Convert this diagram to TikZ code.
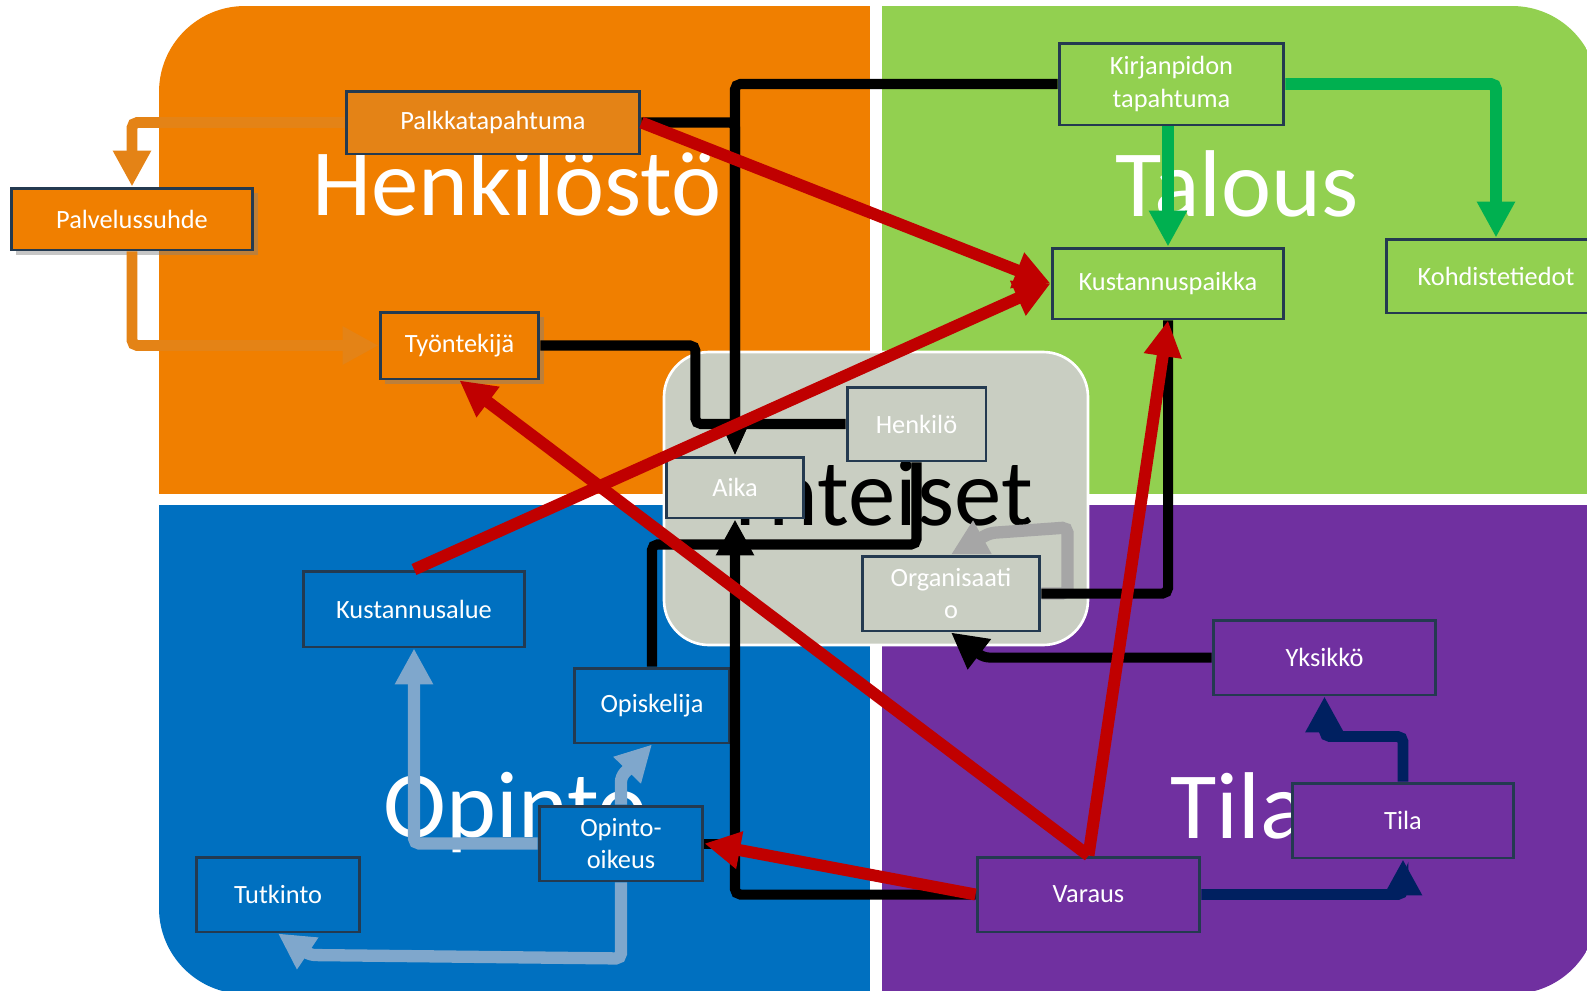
\documentclass[tikz,border=0pt]{standalone}
\usepackage{fontspec}
\setmainfont{Carlito}
\usepackage{tikz}
\usetikzlibrary{arrows.meta,shadows}

\definecolor{henkcol}{RGB}{240,127,0}
\definecolor{palkcol}{RGB}{228,131,22}
\definecolor{taloucol}{RGB}{146,208,80}
\definecolor{opintocol}{RGB}{0,112,192}
\definecolor{tilacol}{RGB}{112,48,160}
\definecolor{yhtcol}{RGB}{201,206,194}
\definecolor{boxline}{RGB}{36,58,80}
\definecolor{linkred}{RGB}{192,0,0}
\definecolor{linkgreen}{RGB}{0,176,80}
\definecolor{linknavy}{RGB}{0,32,96}
\definecolor{linkblue}{RGB}{127,167,204}
\definecolor{linkgray}{RGB}{166,166,166}
\definecolor{linkorange}{RGB}{228,131,22}

\begin{document}
\begin{tikzpicture}[x=0.02cm,y=-0.02cm,
  box/.style={draw=boxline,line width=1.7pt,text=white,align=center,inner sep=0pt,
    font=\fontsize{15}{18.7}\selectfont},
  bigtitle/.style={text=white,anchor=base,inner sep=0pt,font=\fontsize{54}{60}\selectfont},
  conn/.style={line width=6.2pt,rounded corners=3pt},
  bighead/.style={-{Triangle[length=20.4pt,width=20.4pt]}},
  smallhead/.style={-{Triangle[length=15.9pt,width=12.5pt]}},
  lifted/.style={drop shadow={shadow xshift=3pt,shadow yshift=-3pt,opacity=0.45}}]
\useasboundingbox (0,0) rectangle (1587,991);

\begin{scope}
\clip[rounded corners=1.72cm] (159,6) rectangle (1598,994);
\fill[henkcol] (159,6) rectangle (870,494);
\fill[taloucol] (882,6) rectangle (1598,494);
\fill[opintocol] (159,505) rectangle (870,994);
\fill[tilacol] (882,505) rectangle (1598,994);
\end{scope}
\filldraw[fill=yhtcol,draw=white,line width=1.5pt,rounded corners=0.9cm] (664,352) rectangle (1088,645);

\node[bigtitle] (thenk) at (517,215) {Henkilöstö};
\node[bigtitle] (ttal) at (1237,216) {Talous};
\node[bigtitle,text=black] (tyht) at (878,525) {Yhteiset};
\node[bigtitle] (topi) at (516,837) {Opinto};
\node[bigtitle] (ttila) at (1238,838) {Tila};

\node[box,lifted,fill=henkcol,minimum width=4.84cm,minimum height=1.24cm] (palv) at (132,219) {Palvelussuhde};
\node[box,fill=palkcol,minimum width=5.88cm,minimum height=1.26cm] (palk) at (493,122.5) {Palkkatapahtuma};
\node[box,lifted,fill=henkcol,minimum width=3.18cm,minimum height=1.34cm] (tyon) at (459.5,345.5) {Työntekijä};
\node[box,fill=taloucol,minimum width=4.5cm,minimum height=1.64cm] (kirj) at (1171.5,84) {Kirjanpidon\\tapahtuma};
\node[box,fill=taloucol,minimum width=4.64cm,minimum height=1.42cm] (kpai) at (1168,283.5) {Kustannuspaikka};
\node[box,fill=taloucol,minimum width=4.4cm,minimum height=1.48cm] (kohd) at (1496,276) {Kohdistetiedot};
\node[box,fill=yhtcol,minimum width=2.78cm,minimum height=1.48cm] (henk) at (916.5,424) {Henkilö};
\node[box,fill=yhtcol,minimum width=2.76cm,minimum height=1.22cm] (aika) at (735,487.5) {Aika};
\node[box,fill=yhtcol,minimum width=3.56cm,minimum height=1.5cm] (orga) at (951,593.5) {Organisaati\\o};
\node[box,fill=opintocol,minimum width=4.44cm,minimum height=1.52cm] (kust) at (414,609) {Kustannusalue};
\node[box,fill=opintocol,minimum width=3.12cm,minimum height=1.5cm] (opis) at (652,705.5) {Opiskelija};
\node[box,fill=opintocol,minimum width=3.28cm,minimum height=1.5cm] (opio) at (621,843.5) {Opinto-\\oikeus};
\node[box,fill=opintocol,minimum width=3.28cm,minimum height=1.5cm] (tutk) at (278,894.5) {Tutkinto};
\node[box,fill=tilacol,minimum width=4.46cm,minimum height=1.5cm] (yksi) at (1324.5,657.5) {Yksikkö};
\node[box,fill=tilacol,minimum width=4.44cm,minimum height=1.5cm] (tila) at (1403,820.5) {Tila};
\node[box,fill=tilacol,minimum width=4.46cm,minimum height=1.5cm] (vara) at (1088.5,894.5) {Varaus};

\draw[conn,linkorange,bighead] (palk.west) -| (palv.north);
\draw[conn,linkorange,bighead] (palv.south) |- (tyon.west);

\draw[conn,linkgray,line width=7pt,bighead] (orga.east) -- ++(26,0) -- ++(0,-66) -- (990,533) -- (orga.north);

\draw[conn,black,line width=5.7pt,smallhead] (palk.east) -| (aika.north);
\draw[conn,black,line width=5.7pt,smallhead] (kirj.west) -| (aika.north);
\draw[conn,black,line width=5.7pt] (tyon.east) -- ++(155,0) |- (henk.west);
\draw[conn,black,line width=5.7pt] (henk.south) -- ++(0,82) -| (opis.north);
\draw[conn,black,line width=5.7pt,bighead] (vara.west) -| (aika.south);
\draw[conn,black,line width=5.7pt] (opio.east) -- (aika.south |- opio.east);
\draw[conn,black,line width=5.7pt] (kpai.south) |- (orga.east);
\draw[conn,black,line width=5.7pt,bighead] (yksi.west) -- ++(-228,0) -- (orga.south);

\draw[conn,linkgreen,line width=6.8pt,bighead] (kpai.north |- kirj.south) -- (kpai.north);
\draw[conn,linkgreen,line width=6.8pt,bighead] (kirj.east) -| (kohd.north);

\draw[conn,linknavy,bighead] (vara.east) -| (tila.south);
\draw[conn,linknavy,bighead] (tila.north) -- ++(0,-45) -| (yksi.south);

\draw[conn,linkblue,line width=7pt,bighead] (opio.west) -| (kust.south);
\draw[conn,linkblue,line width=7pt,bighead] (opio.north) -- ++(0,-28) -- (opis.south);
\draw[conn,linkblue,line width=7pt,bighead] (opio.south) -- ++(0,76) -- (310,955) -- (tutk.south);

\draw[conn,linkred,line width=6.8pt,bighead] (palk.east) -- (kpai.west);
\draw[conn,linkred,line width=6.8pt,bighead] (kust.north) -- (kpai.west);
\draw[conn,linkred,line width=6.8pt,bighead] (vara.north) -- (tyon.south);
\draw[conn,linkred,line width=6.8pt,bighead] (vara.north) -- (kpai.south);
\draw[conn,linkred,line width=6.8pt,bighead] (vara.west) -- (opio.east);
\end{tikzpicture}
\end{document}
